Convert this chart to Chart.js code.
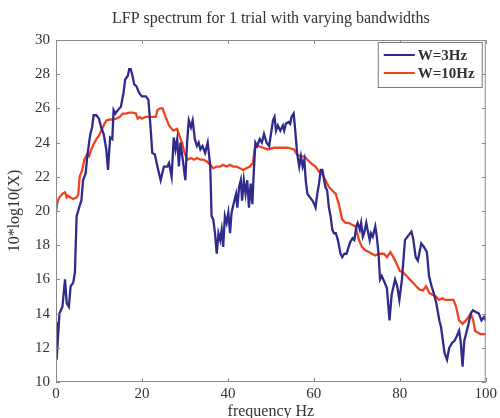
<!DOCTYPE html>
<html>
<head>
<meta charset="utf-8">
<script src="https://cdn.jsdelivr.net/npm/chart.js@4"></script>
<style>
  html, body { margin: 0; padding: 0; background: #fff; }
  #wrap { width: 500px; height: 418px; }
</style>
</head>
<body>
<div id="wrap"><canvas id="lfp"></canvas></div>
<script>
// W=3Hz spectrum (frequency, dB)
const freq3 = [0, 0.15, 0.8, 1.5, 2.1, 2.5, 3.0, 3.4, 4.0, 4.4, 4.8, 5.5, 5.9, 6.3, 6.9, 7.2, 7.7, 8.0, 8.4, 8.75,
  9.4, 10.0, 10.5, 11.1, 11.7, 12.1, 12.3, 12.6, 13.1, 13.4, 13.8, 14.4, 15.1, 15.7, 16.1, 16.7, 17.05, 17.4, 17.8, 18.2,
  18.7, 19.35, 20.0, 20.9, 21.5, 22.0, 22.4, 23.0, 23.6, 24.35, 25.1, 25.9, 26.3, 26.9, 27.4, 27.8, 28.2, 28.6, 28.95, 29.5,
  30.1, 30.5, 30.9, 31.4, 31.8, 32.3, 32.8, 33.2, 33.6, 34.1, 34.7, 35.3, 35.9, 36.2, 36.6, 37.0, 37.4, 37.8, 38.2, 38.55,
  38.9, 39.3, 39.7, 40.1, 40.5, 40.85, 41.5, 41.9, 42.2, 42.6, 43.0, 43.3, 43.7, 44.1, 44.5, 44.9, 45.3, 45.7, 46.0, 46.4,
  46.8, 47.4, 47.9, 48.4, 49.0, 49.6, 50.5, 50.85, 51.2, 51.6, 52.2, 52.8, 53.1, 53.5, 54.1, 54.5, 54.8, 55.3, 55.6, 56.1,
  56.6, 57.0, 57.4, 57.8, 58.1, 58.5, 59.1, 59.7, 60.1, 60.4, 60.8, 61.2, 61.6, 62.0, 62.4, 62.7, 63.1, 63.5, 63.9, 64.3,
  64.7, 65.1, 65.6, 66.2, 66.6, 67.1, 67.6, 68.1, 68.5, 69.0, 69.4, 69.9, 70.2, 70.7, 71.0, 71.4, 71.7, 72.2, 72.5, 73.0,
  73.3, 73.7, 74.3, 74.65, 75.05, 75.4, 75.8, 76.5, 77.0, 77.6, 78.1, 78.9, 79.4, 79.9, 80.5, 81.2, 81.8, 82.7, 83.1, 83.7,
  84.2, 85.0, 85.6, 86.3, 86.8, 87.4, 87.9, 88.5, 89.2, 89.6, 90.4, 91.0, 91.5, 92.2, 92.7, 93.2, 93.8, 94.2, 94.6, 95.0,
  95.4, 96.0, 96.5, 97.0, 97.7, 98.4, 99.0, 99.6, 100];
const power3 = [13.5, 11.3, 14.0, 14.4, 16.0, 14.6, 14.4, 15.6, 15.8, 16.4, 19.7, 20.3, 20.6, 21.8, 22.2, 23.0, 24.0, 24.5, 24.9, 25.6,
  25.6, 25.4, 24.9, 24.5, 23.6, 22.4, 23.2, 24.3, 24.2, 25.9, 25.7, 25.9, 26.1, 26.9, 27.7, 27.9, 28.3, 28.3, 27.9, 27.4,
  27.3, 26.9, 26.7, 26.7, 26.5, 24.9, 23.4, 23.3, 22.6, 21.8, 22.6, 22.6, 22.8, 22.0, 24.3, 23.6, 24.2, 22.6, 24.0, 23.0,
  21.8, 24.0, 25.3, 24.9, 25.3, 24.2, 23.8, 24.0, 23.6, 23.8, 23.4, 24.0, 22.6, 19.7, 19.5, 18.7, 17.5, 18.7, 18.3, 18.9,
  17.9, 19.7, 19.3, 19.9, 18.7, 19.9, 20.6, 21.0, 20.2, 21.4, 21.8, 20.6, 21.8, 21.0, 21.8, 20.2, 21.6, 20.4, 22.2, 24.0,
  23.8, 24.2, 24.0, 24.5, 24.0, 23.8, 25.3, 25.5, 24.7, 25.0, 24.7, 25.0, 24.7, 25.1, 25.2, 25.1, 25.5, 25.7, 24.9, 23.4,
  22.6, 23.2, 22.6, 23.0, 21.8, 21.0, 20.8, 20.6, 20.4, 20.2, 21.0, 21.6, 22.4, 22.4, 21.8, 21.4, 21.2, 20.2, 19.7, 18.9,
  18.7, 18.7, 18.3, 17.5, 17.3, 17.5, 17.5, 17.9, 18.2, 18.4, 18.3, 19.1, 19.3, 18.9, 19.3, 18.5, 18.7, 19.3, 18.9, 18.3,
  18.7, 18.5, 19.1, 18.5, 17.5, 16.0, 16.2, 15.8, 15.5, 13.6, 15.1, 16.0, 15.6, 14.8, 16.0, 18.3, 18.5, 18.8, 18.4, 17.3,
  17.1, 18.1, 17.9, 17.6, 16.2, 15.6, 15.2, 14.6, 13.6, 13.2, 11.7, 11.3, 12.0, 12.3, 12.4, 12.65, 13.0, 12.3, 10.9, 12.4,
  12.8, 13.4, 14.0, 14.2, 14.1, 14.0, 13.6, 13.8, 13.6];

// W=10Hz spectrum (frequency, dB)
const freq10 = [0, 0.4, 0.8, 1.5, 2.1, 2.5, 2.8, 3.3, 4.0, 4.8, 5.2, 5.5, 6.1, 6.6, 7.2, 7.7, 8.2, 8.75, 9.4, 10.0,
  10.5, 11.1, 11.7, 12.5, 13.3, 14.0, 14.8, 15.5, 16.3, 17.05, 17.8, 18.6, 19.0, 19.5, 20.0, 20.9, 21.7, 22.4, 23.2, 23.6,
  24.2, 24.8, 25.5, 26.3, 27.3, 28.2, 28.6, 29.3, 29.9, 30.6, 31.4, 32.1, 32.8, 33.6, 34.3, 35.1, 35.9, 36.6, 37.4, 38.2,
  38.9, 39.7, 40.5, 41.2, 42.0, 42.8, 43.5, 44.3, 45.1, 45.8, 46.2, 46.4, 47.0, 48.2, 49.3, 50.8, 52.4, 53.9, 55.4, 56.1,
  57.0, 57.8, 58.5, 59.3, 60.4, 61.2, 61.9, 62.7, 63.5, 64.3, 65.1, 65.8, 66.6, 67.4, 68.1, 68.9, 69.7, 70.5, 71.2, 72.0,
  72.8, 73.5, 74.3, 75.05, 76.3, 77.0, 77.8, 78.5, 79.3, 80.0, 80.8, 81.6, 82.3, 83.1, 83.8, 84.6, 85.4, 86.1, 86.9, 87.6,
  88.4, 89.1, 89.9, 90.6, 91.8, 92.5, 93.1, 93.8, 94.6, 95.4, 96.0, 96.5, 97.1, 97.5, 98.1, 98.8, 100];
const power10 = [20.0, 20.6, 20.8, 21.0, 21.1, 20.8, 20.9, 20.8, 20.7, 20.8, 21.0, 22.0, 22.4, 23.0, 23.3, 23.2, 23.6, 23.9, 24.2, 24.4,
  24.7, 25.0, 25.3, 25.35, 25.35, 25.4, 25.5, 25.7, 25.7, 25.75, 25.75, 25.7, 25.4, 25.5, 25.4, 25.5, 25.5, 25.5, 25.5, 25.9,
  26.0, 26.0, 25.5, 25.0, 24.7, 24.8, 24.5, 24.0, 23.4, 23.0, 23.1, 23.0, 23.1, 23.0, 23.0, 22.9, 22.7, 22.5, 22.6, 22.6,
  22.7, 22.6, 22.7, 22.6, 22.6, 22.5, 22.4, 22.5, 22.6, 22.8, 23.6, 23.8, 23.8, 23.7, 23.6, 23.7, 23.7, 23.7, 23.6, 23.3,
  23.2, 23.2, 23.0, 22.8, 22.6, 22.3, 22.2, 21.8, 21.4, 21.2, 21.0, 20.4, 19.5, 19.3, 19.3, 19.2, 19.1, 18.3, 17.9, 17.7,
  17.6, 17.5, 17.4, 17.5, 17.5, 17.3, 17.6, 17.3, 16.9, 16.5, 16.4, 16.2, 16.0, 15.8, 15.6, 15.4, 15.35, 15.6, 15.2, 15.1,
  15.0, 14.8, 14.9, 14.8, 14.8, 14.8, 14.4, 13.6, 13.4, 13.6, 13.8, 14.0, 13.6, 13.0, 12.9, 12.8, 12.8];

const xTicks = [0, 20, 40, 60, 80, 100];
const yTicks = [10, 12, 14, 16, 18, 20, 22, 24, 26, 28, 30];
const titleText = 'LFP spectrum for 1 trial with varying bandwidths';

const serif = '"Liberation Serif", "DejaVu Serif", serif';

function toPoints(xs, ys) {
    return xs.map((x, i) => ({ x: x, y: ys[i] }));
}

// MATLAB-like frame with inward ticks, title over the axes and an inset legend
const matlabFrame = {
    id: 'matlabFrame',
    afterDraw(chart) {
        const ctx = chart.ctx;
        const a = chart.chartArea;
        const xs = chart.scales.x, ys = chart.scales.y;
        ctx.save();

        // title, centred on the axes box
        ctx.fillStyle = '#333';
        ctx.font = '16px ' + serif;
        ctx.textAlign = 'center';
        ctx.textBaseline = 'middle';
        ctx.fillText(titleText, (a.left + a.right) / 2, 19);

        ctx.strokeStyle = '#8a8a8a';
        ctx.lineWidth = 1;
        ctx.strokeRect(a.left + 0.5, a.top + 0.5, a.right - a.left - 1, a.bottom - a.top - 1);
        ctx.beginPath();
        xTicks.forEach(t => {
            const px = Math.round(xs.getPixelForValue(t)) + 0.5;
            ctx.moveTo(px, a.bottom); ctx.lineTo(px, a.bottom - 4);
            ctx.moveTo(px, a.top); ctx.lineTo(px, a.top + 4);
        });
        yTicks.forEach(t => {
            const py = Math.round(ys.getPixelForValue(t)) + 0.5;
            ctx.moveTo(a.left, py); ctx.lineTo(a.left + 4, py);
            ctx.moveTo(a.right, py); ctx.lineTo(a.right - 4, py);
        });
        ctx.stroke();

        // legend box
        const bx = a.right - 108, by = a.top + 2, bw = 104, bh = 45;
        ctx.fillStyle = '#fff';
        ctx.fillRect(bx, by, bw, bh);
        ctx.strokeStyle = '#7a7a7a';
        ctx.strokeRect(bx + 0.5, by + 0.5, bw, bh);
        ctx.font = 'bold 15px ' + serif;
        ctx.textAlign = 'left';
        ctx.textBaseline = 'middle';
        chart.data.datasets.forEach((ds, i) => {
            const ly = by + 13 + i * 18;
            ctx.strokeStyle = ds.borderColor;
            ctx.lineWidth = 2;
            ctx.beginPath();
            ctx.moveTo(bx + 6, ly); ctx.lineTo(bx + 37, ly);
            ctx.stroke();
            ctx.fillStyle = '#333';
            ctx.fillText(ds.label, bx + 40, ly + 1);
        });
        ctx.restore();
    }
};

new Chart(document.getElementById('lfp'), {
    type: 'line',
    data: {
        datasets: [
            {
                label: 'W=3Hz',
                data: toPoints(freq3, power3),
                borderColor: '#2f2a8c',
                borderWidth: 2.3,
                pointRadius: 0,
                tension: 0
            },
            {
                label: 'W=10Hz',
                data: toPoints(freq10, power10),
                borderColor: '#f0441e',
                borderWidth: 2.3,
                pointRadius: 0,
                tension: 0
            }
        ]
    },
    options: {
        responsive: true,
        maintainAspectRatio: false,
        animation: false,
        layout: { padding: { left: 0, right: 10, top: 40, bottom: 0 } },
        plugins: {
            legend: { display: false },
            tooltip: { enabled: false },
            title: { display: false }
        },
        scales: {
            x: {
                type: 'linear',
                min: 0,
                max: 100,
                afterBuildTicks: s => { s.ticks = xTicks.map(v => ({ value: v })); },
                afterFit: s => { s.height = 36; },
                grid: { display: false, drawTicks: false, tickLength: 0 },
                border: { display: false },
                ticks: { color: '#333', font: { family: serif, size: 15 }, padding: 3, maxRotation: 0 },
                title: {
                    display: true,
                    text: 'frequency Hz',
                    color: '#333',
                    font: { family: serif, size: 16 },
                    padding: { top: 0, bottom: -3 }
                }
            },
            y: {
                min: 10,
                max: 30,
                afterBuildTicks: s => { s.ticks = yTicks.map(v => ({ value: v })); },
                afterFit: s => { s.width = 56; },
                grid: { display: false, drawTicks: false, tickLength: 0 },
                border: { display: false },
                ticks: { color: '#333', font: { family: serif, size: 15 }, padding: 6 },
                title: {
                    display: true,
                    text: '10*log10(X)',
                    color: '#333',
                    font: { family: serif, size: 16 },
                    padding: { top: 5, bottom: 4 }
                }
            }
        }
    },
    plugins: [matlabFrame]
});
</script>
</body>
</html>
